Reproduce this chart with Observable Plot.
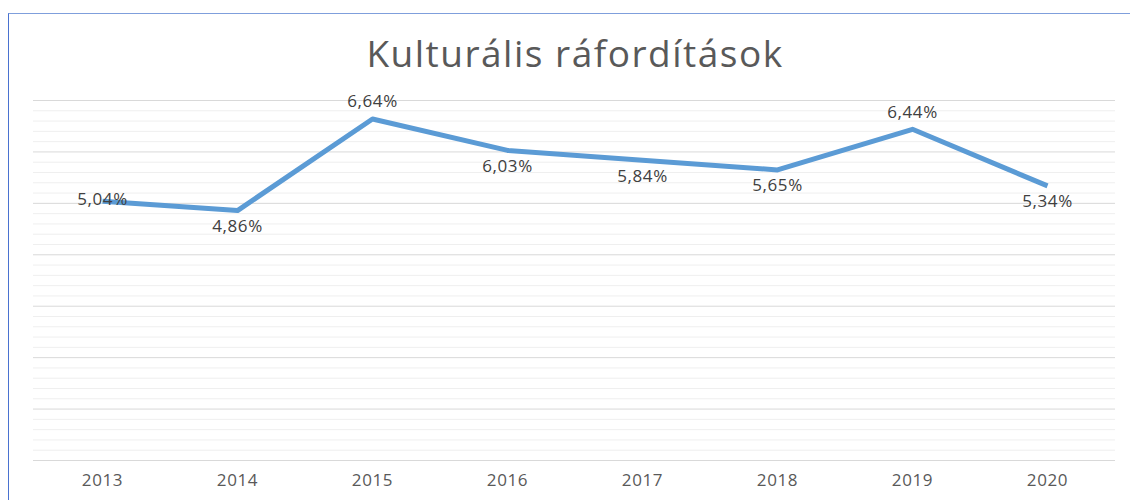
<!DOCTYPE html>
<html>
<head>
<meta charset="utf-8">
<script src="https://cdn.jsdelivr.net/npm/d3@7"></script>
<script src="https://cdn.jsdelivr.net/npm/@observablehq/plot@0.6"></script>
<style>
  html, body { margin: 0; padding: 0; background: #fff; }
  #wrap { position: relative; width: 1130px; height: 500px; overflow: hidden; font-family: "Open Sans", sans-serif; }
  #frame { position: absolute; left: 8px; top: 13px; width: 1200px; height: 600px;
           border-left: 1px solid #4a72d0; border-top: 1px solid #7f9fdc; }
  #title { position: absolute; left: 10px; width: 1130px; top: 27px; text-align: center;
           font-size: 37px; letter-spacing: 1.5px; color: #595959; font-weight: 400; line-height: 52px; }
  #chart { position: absolute; left: 0; top: 0; }
  #chart svg text { letter-spacing: 0.6px; }
</style>
</head>
<body>
<div id="wrap">
  <div id="frame"></div>
  <div id="title">Kulturális ráfordítások</div>
  <div id="chart"></div>
</div>
<script>
const years = ["2013", "2014", "2015", "2016", "2017", "2018", "2019", "2020"];
const values = [5.04, 4.86, 6.64, 6.03, 5.84, 5.65, 6.44, 5.34];
const majorTicks = [0, 1, 2, 3, 4, 5, 6, 7];

const data = years.map((y, i) => ({year: y, value: values[i]}));
const minorTicks = d3.range(0, 35).map(i => i / 5).filter(v => !majorTicks.includes(Math.round(v * 100) / 100));

// label placement: first point centered, local peaks above, others below
function place(i) {
  if (i === 0) return "center";
  const v = values[i];
  const prev = values[i - 1];
  const next = i < values.length - 1 ? values[i + 1] : -Infinity;
  return (v > prev && v > next) ? "above" : "below";
}
const fmt = v => v.toFixed(2).replace(".", ",") + "%";
const labelData = data.map((d, i) => ({...d, pos: place(i)}));

const chart = Plot.plot({
  width: 1130,
  height: 500,
  marginTop: 100,
  marginBottom: 40,
  marginLeft: 33,
  marginRight: 15,
  style: {fontFamily: "Open Sans, sans-serif", background: "transparent"},
  x: {type: "point", domain: years, padding: 0.5, label: null, tickSize: 0, tickPadding: 13},
  y: {domain: [0, 7], axis: null},
  marks: [
    Plot.ruleY(minorTicks, {stroke: "#efefef", strokeWidth: 1}),
    Plot.ruleY(majorTicks, {stroke: "#d9d9d9", strokeWidth: 1}),
    Plot.axisX({tickSize: 0, tickPadding: 13, fontSize: 17, fill: "#595959", label: null}),
    Plot.line(data, {x: "year", y: "value", stroke: "#5b9bd5", strokeWidth: 5, strokeLinejoin: "round", strokeLinecap: "butt"}),
    Plot.text(labelData.filter(d => d.pos === "above"), {x: "year", y: "value", text: d => fmt(d.value), dy: -17, fontSize: 17, fill: "#404040"}),
    Plot.text(labelData.filter(d => d.pos === "below"), {x: "year", y: "value", text: d => fmt(d.value), dy: 16, fontSize: 17, fill: "#404040"}),
    Plot.text(labelData.filter(d => d.pos === "center"), {x: "year", y: "value", text: d => fmt(d.value), dy: -2, fontSize: 17, fill: "#404040"})
  ]
});
document.getElementById("chart").appendChild(chart);
</script>
</body>
</html>
